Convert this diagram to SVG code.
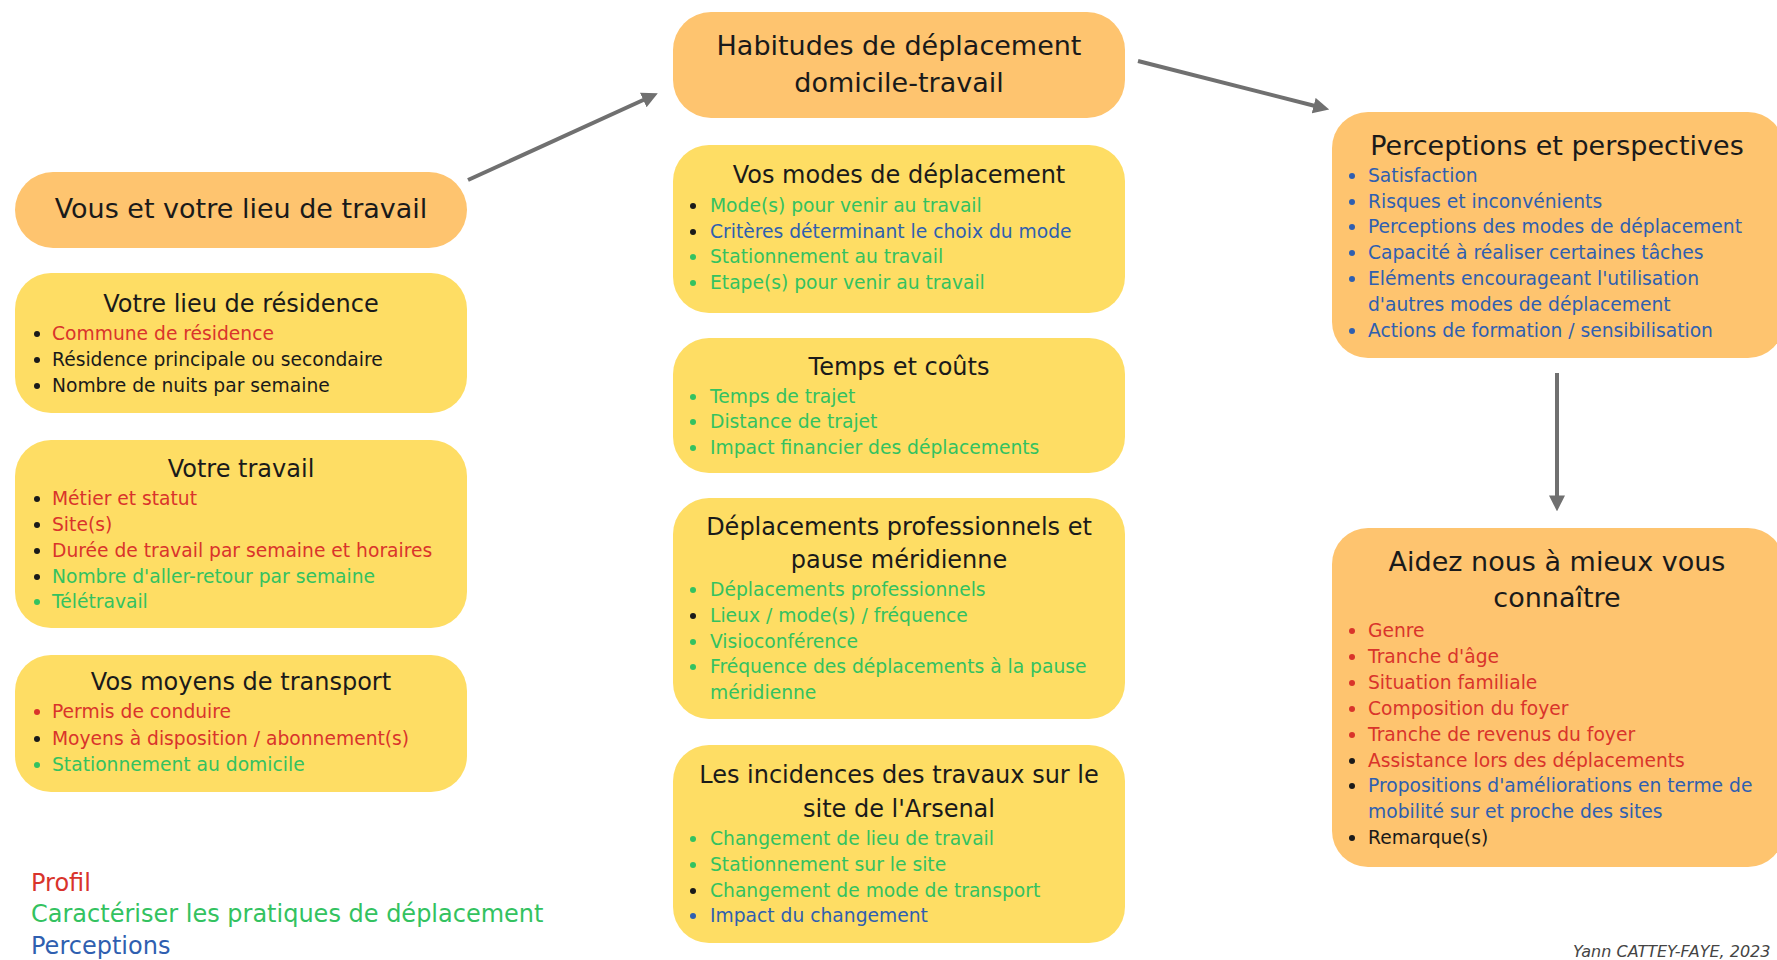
<svg xmlns="http://www.w3.org/2000/svg" width="1777" height="960" viewBox="0 0 1777 960">
<defs>
<style>
text{font-family:"DejaVu Sans","Noto Sans",sans-serif;}
.or{fill:#fec46f;}
.ye{fill:#fedd64;}
.t1{font-size:27px;fill:#1a1a1a;text-anchor:middle;}
.t2{font-size:24px;fill:#1a1a1a;text-anchor:middle;}
.it{font-size:18.7px;}
.r{fill:#d9342b;}
.g{fill:#33c260;}
.b{fill:#2f5fb0;}
.k{fill:#1a1a1a;}
.con{stroke:#707070;stroke-width:4;fill:none;marker-end:url(#ah);}
.leg{font-size:24px;}
</style>
<marker id="ah" viewBox="0 0 10 10" refX="6" refY="5" markerWidth="4" markerHeight="4" orient="auto" markerUnits="strokeWidth">
<path d="M0,0 L10,5 L0,10 z" fill="#707070"/>
</marker>
</defs>
<rect width="1777" height="960" fill="#ffffff"/>

<g id="connectors">
<line class="con" x1="468" y1="180" x2="652" y2="96"/>
<line class="con" x1="1138" y1="61" x2="1323" y2="108"/>
<line class="con" x1="1557" y1="373" x2="1557" y2="505"/>
</g>

<g id="n-vous">
<rect class="or" x="15" y="172" width="452" height="76" rx="38"/>
<text class="t1" x="241" y="218">Vous et votre lieu de travail</text>
</g>

<g id="n-residence">
<rect class="ye" x="15" y="273" width="452" height="140" rx="36"/>
<text class="t2" x="241" y="312">Votre lieu de résidence</text>
<circle class="k" cx="37" cy="334" r="3"/><text class="it r" x="52" y="340">Commune de résidence</text>
<circle class="k" cx="37" cy="360" r="3"/><text class="it k" x="52" y="366">Résidence principale ou secondaire</text>
<circle class="k" cx="37" cy="386" r="3"/><text class="it k" x="52" y="392">Nombre de nuits par semaine</text>
</g>

<g id="n-travail">
<rect class="ye" x="15" y="440" width="452" height="188" rx="36"/>
<text class="t2" x="241" y="477">Votre travail</text>
<circle class="k" cx="37" cy="499" r="3"/><text class="it r" x="52" y="505">Métier et statut</text>
<circle class="k" cx="37" cy="525" r="3"/><text class="it r" x="52" y="531">Site(s)</text>
<circle class="k" cx="37" cy="551" r="3"/><text class="it r" x="52" y="557">Durée de travail par semaine et horaires</text>
<circle class="k" cx="37" cy="577" r="3"/><text class="it g" x="52" y="583">Nombre d'aller-retour par semaine</text>
<circle class="g" cx="37" cy="602" r="3"/><text class="it g" x="52" y="608">Télétravail</text>
</g>

<g id="n-moyens">
<rect class="ye" x="15" y="655" width="452" height="137" rx="36"/>
<text class="t2" x="241" y="690">Vos moyens de transport</text>
<circle class="r" cx="37" cy="712" r="3"/><text class="it r" x="52" y="718">Permis de conduire</text>
<circle class="k" cx="37" cy="739" r="3"/><text class="it r" x="52" y="745">Moyens à disposition / abonnement(s)</text>
<circle class="g" cx="37" cy="765" r="3"/><text class="it g" x="52" y="771">Stationnement au domicile</text>
</g>

<g id="n-habitudes">
<rect class="or" x="673" y="12" width="452" height="106" rx="38"/>
<text class="t1" x="899" y="55">Habitudes de déplacement</text>
<text class="t1" x="899" y="92">domicile-travail</text>
</g>

<g id="n-modes">
<rect class="ye" x="673" y="145" width="452" height="168" rx="36"/>
<text class="t2" x="899" y="183">Vos modes de déplacement</text>
<circle class="k" cx="693" cy="206" r="3"/><text class="it g" x="710" y="212">Mode(s) pour venir au travail</text>
<circle class="k" cx="693" cy="232" r="3"/><text class="it b" x="710" y="238">Critères déterminant le choix du mode</text>
<circle class="g" cx="693" cy="257" r="3"/><text class="it g" x="710" y="263">Stationnement au travail</text>
<circle class="g" cx="693" cy="283" r="3"/><text class="it g" x="710" y="289">Etape(s) pour venir au travail</text>
</g>

<g id="n-temps">
<rect class="ye" x="673" y="338" width="452" height="135" rx="36"/>
<text class="t2" x="899" y="375">Temps et coûts</text>
<circle class="g" cx="693" cy="397" r="3"/><text class="it g" x="710" y="403">Temps de trajet</text>
<circle class="g" cx="693" cy="422" r="3"/><text class="it g" x="710" y="428">Distance de trajet</text>
<circle class="g" cx="693" cy="448" r="3"/><text class="it g" x="710" y="454">Impact financier des déplacements</text>
</g>

<g id="n-pro">
<rect class="ye" x="673" y="498" width="452" height="221" rx="36"/>
<text class="t2" x="899" y="535">Déplacements professionnels et</text>
<text class="t2" x="899" y="568">pause méridienne</text>
<circle class="g" cx="693" cy="590" r="3"/><text class="it g" x="710" y="596">Déplacements professionnels</text>
<circle class="k" cx="693" cy="616" r="3"/><text class="it g" x="710" y="622">Lieux / mode(s) / fréquence</text>
<circle class="g" cx="693" cy="642" r="3"/><text class="it g" x="710" y="648">Visioconférence</text>
<circle class="g" cx="693" cy="667" r="3"/><text class="it g" x="710" y="673">Fréquence des déplacements à la pause</text>
<text class="it g" x="710" y="699">méridienne</text>
</g>

<g id="n-incidences">
<rect class="ye" x="673" y="745" width="452" height="198" rx="36"/>
<text class="t2" x="899" y="783">Les incidences des travaux sur le</text>
<text class="t2" x="899" y="817">site de l'Arsenal</text>
<circle class="g" cx="693" cy="839" r="3"/><text class="it g" x="710" y="845">Changement de lieu de travail</text>
<circle class="g" cx="693" cy="865" r="3"/><text class="it g" x="710" y="871">Stationnement sur le site</text>
<circle class="k" cx="693" cy="891" r="3"/><text class="it g" x="710" y="897">Changement de mode de transport</text>
<circle class="b" cx="693" cy="916" r="3"/><text class="it b" x="710" y="922">Impact du changement</text>
</g>

<g id="n-perceptions">
<rect class="or" x="1332" y="112" width="452" height="246" rx="36"/>
<text class="t1" x="1557" y="155">Perceptions et perspectives</text>
<circle class="b" cx="1352" cy="176" r="3"/><text class="it b" x="1368" y="182">Satisfaction</text>
<circle class="b" cx="1352" cy="202" r="3"/><text class="it b" x="1368" y="208">Risques et inconvénients</text>
<circle class="b" cx="1352" cy="227" r="3"/><text class="it b" x="1368" y="233">Perceptions des modes de déplacement</text>
<circle class="b" cx="1352" cy="253" r="3"/><text class="it b" x="1368" y="259">Capacité à réaliser certaines tâches</text>
<circle class="b" cx="1352" cy="279" r="3"/><text class="it b" x="1368" y="285">Eléments encourageant l'utilisation</text>
<text class="it b" x="1368" y="311">d'autres modes de déplacement</text>
<circle class="b" cx="1352" cy="331" r="3"/><text class="it b" x="1368" y="337">Actions de formation  / sensibilisation</text>
</g>

<g id="n-aidez">
<rect class="or" x="1332" y="528" width="452" height="339" rx="36"/>
<text class="t1" x="1557" y="571">Aidez nous à mieux vous</text>
<text class="t1" x="1557" y="607">connaître</text>
<circle class="r" cx="1352" cy="631" r="3"/><text class="it r" x="1368" y="637">Genre</text>
<circle class="r" cx="1352" cy="657" r="3"/><text class="it r" x="1368" y="663">Tranche d'âge</text>
<circle class="r" cx="1352" cy="683" r="3"/><text class="it r" x="1368" y="689">Situation familiale</text>
<circle class="r" cx="1352" cy="709" r="3"/><text class="it r" x="1368" y="715">Composition du foyer</text>
<circle class="r" cx="1352" cy="735" r="3"/><text class="it r" x="1368" y="741">Tranche de revenus du foyer</text>
<circle class="k" cx="1352" cy="761" r="3"/><text class="it r" x="1368" y="767">Assistance lors des déplacements</text>
<circle class="k" cx="1352" cy="786" r="3"/><text class="it b" x="1368" y="792">Propositions d'améliorations en terme de</text>
<text class="it b" x="1368" y="818">mobilité sur et proche des sites</text>
<circle class="k" cx="1352" cy="838" r="3"/><text class="it k" x="1368" y="844">Remarque(s)</text>
</g>

<g id="legend">
<text class="leg r" x="31" y="891">Profil</text>
<text class="leg g" x="31" y="922">Caractériser les pratiques de déplacement</text>
<text class="leg b" x="31" y="954">Perceptions</text>
</g>

<text x="1573" y="957" font-size="16" font-style="italic" fill="#444">Yann CATTEY-FAYE, 2023</text>
</svg>
